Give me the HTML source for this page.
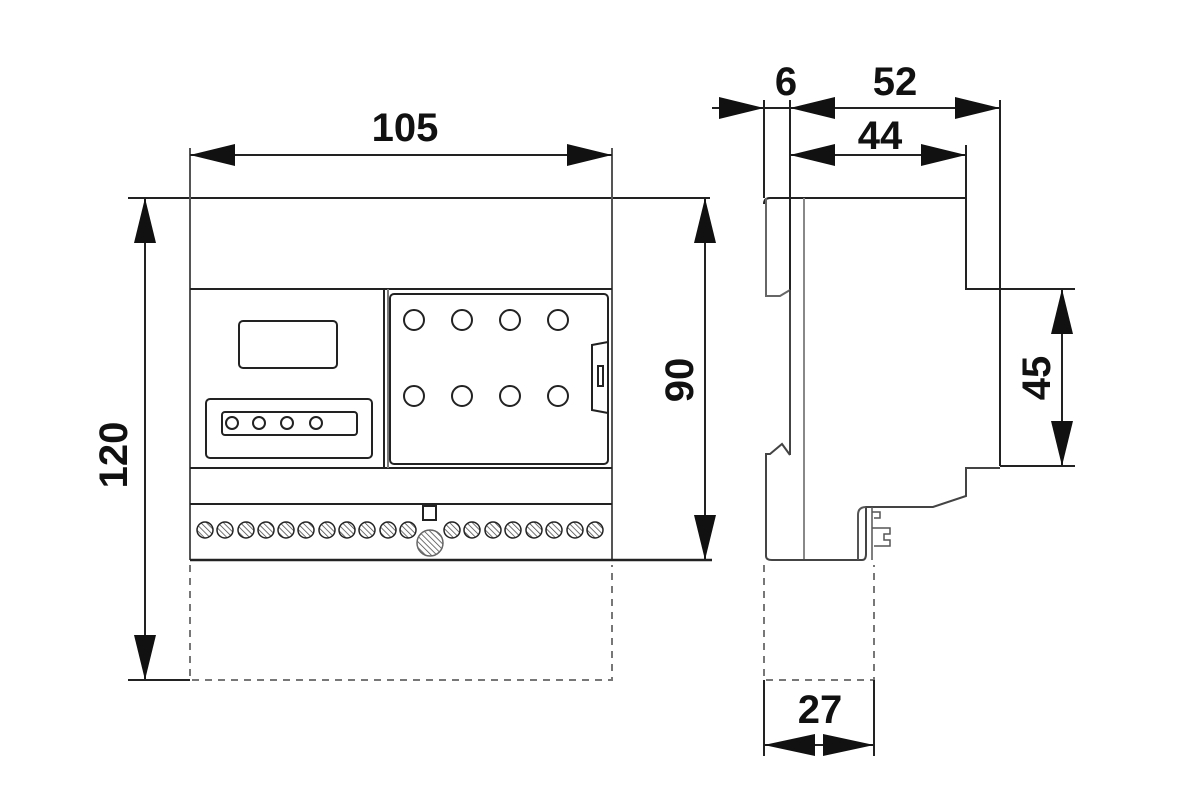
<!DOCTYPE html>
<html><head><meta charset="utf-8"><style>
html,body{margin:0;padding:0;background:#fff;}
svg{display:block}
text{font-family:"Liberation Sans",Arial,sans-serif;font-weight:bold;font-size:40px;fill:#111}
</style></head><body>
<svg width="1188" height="800" viewBox="0 0 1188 800" xmlns="http://www.w3.org/2000/svg">
<defs>
<pattern id="h" width="4" height="4" patternUnits="userSpaceOnUse" patternTransform="rotate(-45)">
<line x1="0" y1="0" x2="0" y2="4" stroke="#444" stroke-width="1.5"/>
</pattern>
</defs>
<g stroke="#222" stroke-width="2" fill="none">
<line x1="128" y1="198" x2="710" y2="198"/>
<line x1="190" y1="148" x2="190" y2="560" stroke="#555"/>
<line x1="612" y1="148" x2="612" y2="560" stroke="#555"/>
<line x1="190" y1="289" x2="612" y2="289"/>
<line x1="190" y1="468" x2="612" y2="468"/>
<line x1="190" y1="504" x2="612" y2="504"/>
<line x1="190" y1="560" x2="712" y2="560" stroke-width="2.5"/>
<line x1="128" y1="680" x2="190" y2="680"/>
<path d="M190 565 V680 H612 V565" stroke="#777" stroke-dasharray="7,6"/>
<line x1="384" y1="289" x2="384" y2="468"/>
<line x1="388" y1="289" x2="388" y2="468" stroke="#777"/>
<rect x="239" y="321" width="98" height="47" rx="4"/>
<rect x="206" y="399" width="166" height="59" rx="4"/>
<rect x="222" y="412" width="135" height="23" rx="3"/>
<circle cx="232" cy="423" r="6"/><circle cx="259" cy="423" r="6"/><circle cx="287" cy="423" r="6"/><circle cx="316" cy="423" r="6"/>
<rect x="390" y="294" width="218" height="170" rx="4"/>
<circle cx="414" cy="320" r="10"/><circle cx="462" cy="320" r="10"/><circle cx="510" cy="320" r="10"/><circle cx="558" cy="320" r="10"/>
<circle cx="414" cy="396" r="10"/><circle cx="462" cy="396" r="10"/><circle cx="510" cy="396" r="10"/><circle cx="558" cy="396" r="10"/>
<path d="M608 342 L592 345 V410 L608 413"/>
<rect x="598" y="366" width="5" height="20"/>
<rect x="423" y="506" width="13" height="14"/>
<g stroke-width="1.5" fill="url(#h)">
<circle cx="205" cy="530" r="8"/><circle cx="225" cy="530" r="8"/><circle cx="246" cy="530" r="8"/><circle cx="266" cy="530" r="8"/><circle cx="286" cy="530" r="8"/><circle cx="306" cy="530" r="8"/><circle cx="327" cy="530" r="8"/><circle cx="347" cy="530" r="8"/><circle cx="367" cy="530" r="8"/><circle cx="388" cy="530" r="8"/><circle cx="408" cy="530" r="8"/>
<circle cx="452" cy="530" r="8"/><circle cx="472" cy="530" r="8"/><circle cx="493" cy="530" r="8"/><circle cx="513" cy="530" r="8"/><circle cx="534" cy="530" r="8"/><circle cx="554" cy="530" r="8"/><circle cx="575" cy="530" r="8"/><circle cx="595" cy="530" r="8"/>
<circle cx="430" cy="543" r="13" stroke="#666"/>
</g>
<line x1="764" y1="100" x2="764" y2="198"/>
<line x1="790" y1="100" x2="790" y2="315"/>
<line x1="1000" y1="100" x2="1000" y2="466"/>
<line x1="966" y1="145" x2="966" y2="198"/>
<path d="M764 204 Q764 198 770 198 H966 V289 H1000"/>
<path d="M766 198 V296 H780 L790 290" stroke="#666"/>
<line x1="790" y1="290" x2="790" y2="455" stroke="#444"/>
<line x1="804" y1="198" x2="804" y2="560" stroke="#888"/>
<path d="M790 455 L782 444 L770 454 H766 V556 Q766 560 772 560 H862 Q866 560 866 554 V507 H933 L966 496 V468 H1000" stroke="#444"/>
<path d="M866 507 Q858 507 858 515 V560" stroke="#555"/>
<path d="M872 507 V560 M872 512 H880 V518 H874 M872 528 H890 V534 H884 V540 H890 V546 H874" stroke="#555" stroke-width="1.5"/>
<line x1="1000" y1="289" x2="1075" y2="289"/>
<line x1="1000" y1="466" x2="1075" y2="466"/>
<path d="M764 565 V680 H874 V565" stroke="#777" stroke-dasharray="7,6"/>
<line x1="764" y1="680" x2="764" y2="756"/>
<line x1="874" y1="680" x2="874" y2="756"/>
<line x1="190" y1="155" x2="612" y2="155"/>
<line x1="145" y1="198" x2="145" y2="680"/>
<line x1="705" y1="198" x2="705" y2="560"/>
<line x1="712" y1="108" x2="1000" y2="108"/>
<line x1="790" y1="155" x2="966" y2="155"/>
<line x1="1062" y1="289" x2="1062" y2="466"/>
<line x1="764" y1="745" x2="874" y2="745"/>
</g>
<g fill="#111">
<polygon points="190,155 235,144 235,166"/><polygon points="612,155 567,144 567,166"/>
<polygon points="145,198 134,243 156,243"/><polygon points="145,680 134,635 156,635"/>
<polygon points="705,198 694,243 716,243"/><polygon points="705,560 694,515 716,515"/>
<polygon points="764,108 719,97 719,119"/><polygon points="790,108 835,97 835,119"/>
<polygon points="1000,108 955,97 955,119"/>
<polygon points="790,155 835,144 835,166"/><polygon points="966,155 921,144 921,166"/>
<polygon points="1062,289 1051,334 1073,334"/><polygon points="1062,466 1051,421 1073,421"/>
<polygon points="764,745 815,734 815,756"/><polygon points="874,745 823,734 823,756"/>
</g>
<text x="405" y="141" text-anchor="middle">105</text>
<text x="786" y="95" text-anchor="middle">6</text>
<text x="895" y="95" text-anchor="middle">52</text>
<text x="880" y="149" text-anchor="middle">44</text>
<text x="820" y="723" text-anchor="middle">27</text>
<text transform="translate(127,455) rotate(-90)" text-anchor="middle">120</text>
<text transform="translate(693,380) rotate(-90)" text-anchor="middle">90</text>
<text transform="translate(1050,378) rotate(-90)" text-anchor="middle">45</text>
</svg>
</body></html>
